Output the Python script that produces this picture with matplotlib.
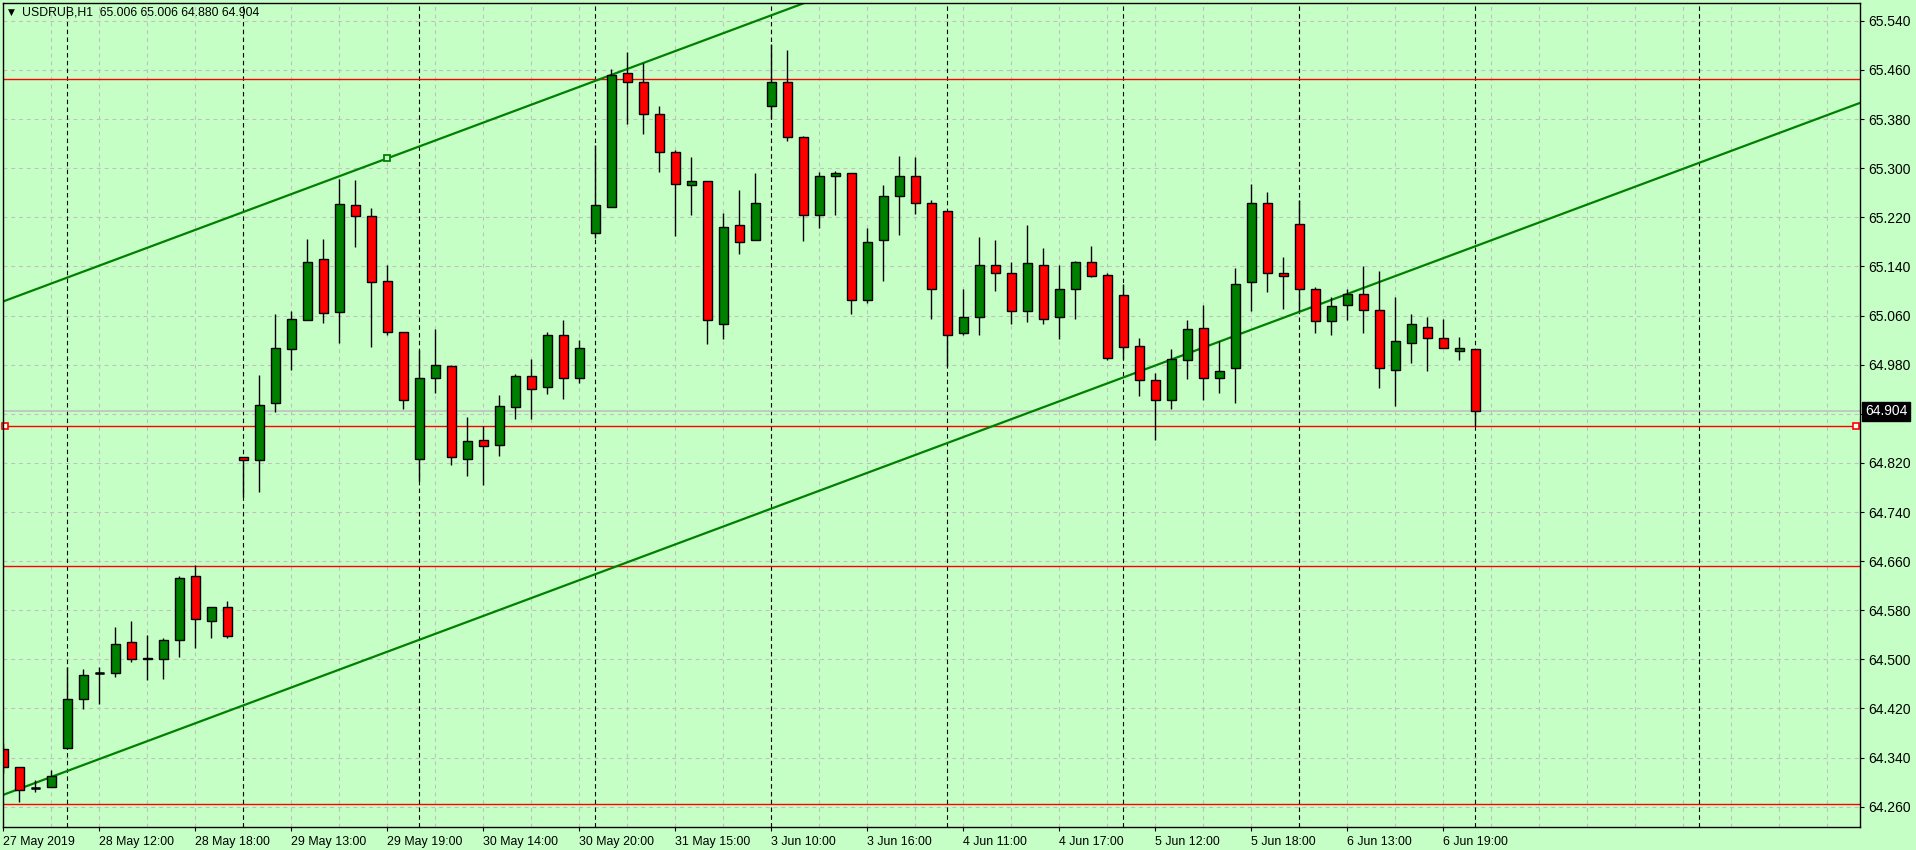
import numpy as np
import matplotlib.pyplot as plt
from matplotlib.transforms import blended_transform_factory

# USDRUB H1, 27 May 2019 17:00 .. 7 Jun 2019 10:00 (bars 10:00-20:00 only)
opens = [64.354, 64.324, 64.291, 64.292, 64.355, 64.435, 64.477, 64.477, 64.528, 64.503,
         64.500, 64.531, 64.635, 64.562, 64.585, 64.829, 64.824, 64.917, 65.005, 65.053,
         65.152, 65.065, 65.240, 65.222, 65.116, 65.033, 64.826, 64.959, 64.977, 64.827,
         64.857, 64.849, 64.911, 64.961, 64.943, 65.029, 64.958, 65.194, 65.236, 65.455,
         65.440, 65.389, 65.327, 65.272, 65.279, 65.047, 65.207, 65.183, 65.402, 65.441,
         65.350, 65.223, 65.287, 65.292, 65.086, 65.183, 65.254, 65.287, 65.244, 65.230,
         65.031, 65.057, 65.143, 65.129, 65.067, 65.142, 65.057, 65.104, 65.147, 65.126,
         65.093, 65.010, 64.955, 64.922, 64.987, 65.039, 64.959, 64.974, 65.114, 65.244,
         65.129, 65.209, 65.104, 65.051, 65.077, 65.095, 65.069, 64.972, 65.016, 65.042,
         65.023, 65.002, 65.006]
highs = [64.363, 64.325, 64.304, 64.320, 64.487, 64.485, 64.487, 64.553, 64.562, 64.540,
         64.534, 64.635, 64.653, 64.585, 64.595, 64.829, 64.963, 65.062, 65.067, 65.185,
         65.185, 65.283, 65.281, 65.235, 65.142, 65.033, 65.004, 65.038, 64.979, 64.895,
         64.880, 64.930, 64.964, 64.989, 65.033, 65.052, 65.020, 65.337, 65.461, 65.489,
         65.472, 65.402, 65.330, 65.318, 65.279, 65.227, 65.264, 65.292, 65.502, 65.493,
         65.352, 65.293, 65.295, 65.292, 65.202, 65.273, 65.320, 65.318, 65.248, 65.230,
         65.103, 65.188, 65.183, 65.147, 65.208, 65.170, 65.143, 65.149, 65.174, 65.129,
         65.111, 65.023, 64.966, 65.005, 65.052, 65.077, 65.019, 65.137, 65.274, 65.261,
         65.155, 65.248, 65.106, 65.090, 65.104, 65.140, 65.132, 65.090, 65.062, 65.058,
         65.054, 65.025, 65.006]
lows = [64.315, 64.267, 64.284, 64.292, 64.355, 64.419, 64.427, 64.472, 64.495, 64.466,
        64.468, 64.504, 64.519, 64.534, 64.535, 64.764, 64.773, 64.903, 64.971, 65.052,
        65.048, 65.015, 65.172, 65.009, 65.029, 64.907, 64.791, 64.934, 64.817, 64.799,
        64.784, 64.831, 64.891, 64.891, 64.932, 64.924, 64.950, 65.186, 65.236, 65.372,
        65.356, 65.294, 65.190, 65.224, 65.014, 65.022, 65.161, 65.183, 65.380, 65.344,
        65.182, 65.203, 65.223, 65.063, 65.081, 65.117, 65.191, 65.226, 65.055, 64.977,
        65.028, 65.028, 65.100, 65.046, 65.049, 65.046, 65.021, 65.055, 65.123, 64.988,
        64.990, 64.929, 64.857, 64.907, 64.957, 64.923, 64.934, 64.918, 65.068, 65.099,
        65.071, 65.068, 65.032, 65.029, 65.052, 65.032, 64.942, 64.912, 64.983, 64.970,
        65.007, 64.988, 64.880]
closes = [64.324, 64.288, 64.291, 64.310, 64.435, 64.474, 64.477, 64.525, 64.500, 64.500,
          64.531, 64.632, 64.565, 64.585, 64.538, 64.824, 64.915, 65.007, 65.054, 65.147,
          65.064, 65.241, 65.222, 65.114, 65.033, 64.922, 64.959, 64.979, 64.829, 64.855,
          64.847, 64.912, 64.961, 64.940, 65.028, 64.958, 65.007, 65.240, 65.452, 65.440,
          65.389, 65.327, 65.274, 65.279, 65.052, 65.204, 65.179, 65.243, 65.441, 65.350,
          65.223, 65.287, 65.292, 65.086, 65.179, 65.254, 65.288, 65.244, 65.103, 65.029,
          65.057, 65.143, 65.129, 65.067, 65.145, 65.055, 65.104, 65.147, 65.125, 64.991,
          65.009, 64.955, 64.922, 64.989, 65.038, 64.958, 64.969, 65.112, 65.243, 65.129,
          65.124, 65.103, 65.051, 65.075, 65.095, 65.069, 64.974, 65.018, 65.046, 65.023,
          65.007, 65.007, 64.904]

time_labels = ["27 May 2019", "28 May 12:00", "28 May 18:00", "29 May 13:00", "29 May 19:00",
               "30 May 14:00", "30 May 20:00", "31 May 15:00", "3 Jun 10:00", "3 Jun 16:00",
               "4 Jun 11:00", "4 Jun 17:00", "5 Jun 12:00", "5 Jun 18:00", "6 Jun 13:00",
               "6 Jun 19:00"]
label_step = 6
day_starts = [4, 15, 26, 37, 48, 59, 70, 81, 92, 106]   # period separators

price_levels = [64.26 + 0.08 * k for k in range(17)]
hlines_red = [65.445, 64.880, 64.652, 64.264]
bid = 64.904
title = "USDRUB,H1  65.006 65.006 64.880 64.904"

# trend channel anchors (bar index, price)
lower_line = [(0, 64.2794), (116, 65.406)]
upper_line = [(0, 65.083), (24, 65.316)]

BG = '#c6ffc6'
GREEN = '#008000'
RED = '#ff0000'
GRID = '#c0c0c0'
W, H = 1916, 850

fig = plt.figure(figsize=(W / 100, H / 100), dpi=100, facecolor=BG)
ax = fig.add_axes([2.5 / W, 23.5 / H, 1857 / W, 824 / H], facecolor=BG)
ax.set_xlim(-0.05, 116.0)
ax.set_ylim(64.2278, 65.5698)

# grid
for p in price_levels:
    ax.axhline(p, color=GRID, lw=0.8, ls=(0, (3.5, 3.5)), zorder=0)
for i in range(0, 117, 3):
    ax.axvline(i, color=GRID, lw=0.8, ls=(0, (3.5, 3.5)), zorder=0)
for i in day_starts:
    ax.axvline(i, color='black', lw=0.8, ls=(0, (4, 3)), zorder=1)

# horizontal levels and bid
for p in hlines_red:
    ax.axhline(p, color=RED, lw=1.0, zorder=2)
ax.axhline(bid, color=GRID, lw=1.2, zorder=2)
x0, x1 = ax.get_xlim()
ax.plot([x0 + 0.15, x1 - 0.2], [hlines_red[1]] * 2, ls='none', marker='s', ms=5,
        mfc='white', mec=RED, mew=1.2, zorder=6, clip_on=False)

# trend channel
ax.axline(*lower_line, color=GREEN, lw=1.6, zorder=3)
ax.axline(*upper_line, color=GREEN, lw=1.6, zorder=3)
ax.plot(*upper_line[1], marker='s', ms=4.5, mfc=BG, mec=GREEN, mew=1.3, zorder=6)

# candles
x = np.arange(len(opens))
o = np.array(opens)
c = np.array(closes)
cols = [GREEN if ci >= oi else RED for oi, ci in zip(o, c)]
ax.vlines(x, lows, highs, color='black', lw=1.0, zorder=4)
ax.bar(x, np.abs(c - o), bottom=np.minimum(o, c), width=0.5625, color=cols,
       edgecolor='black', linewidth=1.0, zorder=5)
doji = np.isclose(o, c)
ax.hlines(o[doji], x[doji] - 0.3, x[doji] + 0.3, color='black', lw=1.8, zorder=5)

# axes
for s in ax.spines.values():
    s.set_color('black')
    s.set_linewidth(1.0)
    s.set_zorder(7)
ax.yaxis.tick_right()
ax.set_yticks(price_levels)
# the level under the bid box is hidden in the terminal
ax.set_yticklabels(['' if abs(p - bid) < 0.04 else '%.3f' % p for p in price_levels])
ax.set_xticks(range(0, label_step * len(time_labels), label_step))
ax.set_xticklabels(time_labels, ha='left')
ax.tick_params(axis='y', length=3, width=0.8, pad=3, labelsize=10, colors='black')
ax.tick_params(axis='x', length=3, width=0.8, pad=4, labelsize=8.9, colors='black')
for t in ax.get_xticklabels() + ax.get_yticklabels():
    t.set_family(['Liberation Sans', 'DejaVu Sans'])

tr = blended_transform_factory(ax.transAxes, ax.transData)
ax.text(1.0029, bid, '%.3f' % bid, transform=tr, ha='left', va='center', fontsize=10,
        color='white', family=['Liberation Sans', 'DejaVu Sans'], zorder=10, clip_on=False,
        bbox=dict(boxstyle='square,pad=0.18', fc='black', ec='black'))

fig.text(8 / W, 1 - 12 / H, '\u25bc', fontsize=6.5, ha='left', va='center',
         family='DejaVu Sans')
fig.text(22 / W, 1 - 12.5 / H, title, fontsize=8.8, ha='left', va='center',
         family=['Liberation Sans', 'DejaVu Sans'])

fig.savefig('out.png', dpi=100, facecolor=BG)
